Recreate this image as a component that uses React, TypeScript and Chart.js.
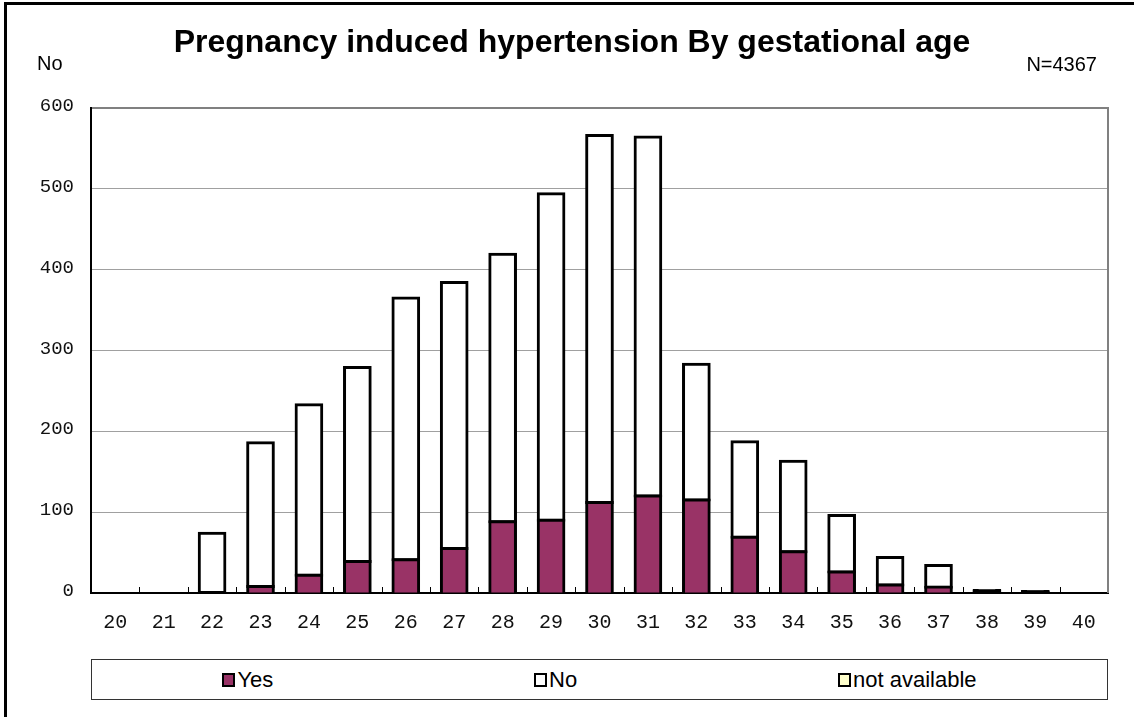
import React, { useEffect, useRef } from "react";
import { Chart, registerables } from "chart.js";

Chart.register(...registerables);

const TITLE = "Pregnancy induced hypertension By gestational age";
const Y_UNIT = "No";
const N_LABEL = "N=4367";

const WEEKS = ["20", "21", "22", "23", "24", "25", "26", "27", "28", "29", "30", "31", "32", "33", "34", "35", "36", "37", "38", "39", "40"];
const YES = [0, 0, 0, 8, 22, 39, 41, 55, 88, 90, 112, 120, 115, 69, 51, 26, 10, 7, 2, 1, 0];
const NO = [0, 0, 74, 178, 211, 240, 324, 329, 331, 404, 454, 444, 168, 118, 112, 70, 34, 27, 1, 1, 0];
const NOT_AVAILABLE = [0, 0, 0, 0, 0, 0, 0, 0, 0, 0, 0, 0, 0, 0, 0, 0, 0, 0, 0, 0, 0];

const SERIES_NAMES = ["Yes", "No", "not available"];
const SERIES_COLORS = ["#993366", "#FFFFFF", "#FFFFCC"];

const Y_MIN = 0;
const Y_MAX = 600;
const Y_STEP = 100;

const BAR_BORDER = 3;

const SANS = "'Liberation Sans', Arial, sans-serif";
const MONO = "'Liberation Mono', 'Courier New', monospace";

const framePlugin = {
  id: "frame",
  afterDraw(chart: any) {
    const { ctx, chartArea: a, scales } = chart;
    const x = scales.x;
    ctx.save();
    // plot-area right border
    ctx.strokeStyle = "#808080";
    ctx.lineWidth = 2;
    ctx.beginPath();
    ctx.moveTo(a.right, a.top - 1);
    ctx.lineTo(a.right, a.bottom);
    ctx.stroke();
    // inner tick marks at category boundaries
    ctx.strokeStyle = "#000";
    ctx.lineWidth = 1;
    ctx.beginPath();
    for (let i = 1; i < WEEKS.length; i++) {
      const px = Math.round((x.getPixelForValue(i - 1) + x.getPixelForValue(i)) / 2) + 0.5;
      ctx.moveTo(px, a.bottom);
      ctx.lineTo(px, a.bottom - 6);
    }
    ctx.stroke();
    ctx.restore();
  },
};

// pixel height of a bar segment (used to emulate the spreadsheet's outline on tiny segments)
function segmentPx(c: any): number {
  const ys = c.chart && c.chart.scales ? c.chart.scales.y : null;
  const v = c.raw;
  if (!ys || typeof v !== "number") return 999;
  return Math.abs(ys.getPixelForValue(0) - ys.getPixelForValue(v));
}

function BarChart() {
  const ref = useRef<HTMLCanvasElement | null>(null);
  useEffect(() => {
    if (!ref.current) return;
    const seriesData = [YES, NO, NOT_AVAILABLE];
    const chart = new Chart(ref.current, {
      type: "bar",
      data: {
        labels: WEEKS,
        datasets: SERIES_NAMES.map((name, i) => ({
          label: name,
          data: seriesData[i],
          backgroundColor: (c: any) => {
            const h = segmentPx(c);
            return h > 0 && h < BAR_BORDER ? "#000000" : SERIES_COLORS[i];
          },
          borderColor: "#000000",
          borderWidth: BAR_BORDER,
          borderSkipped: i === 0 ? "start" : false,
          inflateAmount: (c: any) => (typeof c.raw === "number" && c.raw > 0 ? BAR_BORDER / 2 : 0),
          categoryPercentage: 1,
          barPercentage: 0.53,
        })),
      },
      options: {
        animation: false,
        responsive: false,
        maintainAspectRatio: false,
        events: [],
        layout: { padding: { left: 0, right: 26, top: 108, bottom: 0 } },
        plugins: {
          legend: { display: false },
          title: { display: false },
          tooltip: { enabled: false },
        },
        scales: {
          x: {
            stacked: true,
            grid: { display: true, drawOnChartArea: false, drawTicks: false },
            border: { display: true, color: "#000000", width: 2 },
            ticks: {
              color: "#111",
              font: { family: MONO, size: 20 },
              padding: 18,
              maxRotation: 0,
              autoSkip: false,
            },
            afterFit: (s: any) => {
              s.height = 50;
            },
          },
          y: {
            stacked: true,
            min: Y_MIN,
            max: Y_MAX,
            ticks: {
              stepSize: Y_STEP,
              color: "#111",
              font: { family: MONO, size: 19 },
              padding: 17,
              labelOffset: -2,
            },
            grid: {
              drawTicks: false,
              color: (c: any) => (c.tick && c.tick.value === Y_MAX ? "#808080" : "#a0a0a0"),
              lineWidth: (c: any) => (c.tick && c.tick.value === Y_MAX ? 2 : 1),
            },
            border: { display: true, color: "#000000", width: 2 },
            afterFit: (s: any) => {
              s.width = 91;
            },
          },
        },
      },
      plugins: [framePlugin],
    });
    return () => chart.destroy();
  }, []);
  return (
    <canvas
      ref={ref}
      width={1134}
      height={643}
      style={{ position: "absolute", left: 0, top: 0, width: 1134, height: 643 }}
    />
  );
}

export default function App() {
  return (
    <div
      style={{
        position: "absolute",
        left: 0,
        top: 0,
        width: 1134,
        height: 717,
        overflow: "hidden",
        background: "#fff",
        fontFamily: SANS,
      }}
    >
      <div
        style={{
          position: "absolute",
          left: 4,
          top: 2,
          width: 1200,
          height: 800,
          borderLeft: "3px solid #000",
          borderTop: "3px solid #000",
          boxSizing: "border-box",
        }}
      />
      <BarChart />
      <div
        style={{
          position: "absolute",
          left: 0,
          top: 25,
          width: 1144,
          textAlign: "center",
          fontWeight: "bold",
          fontSize: 32,
          lineHeight: "32px",
          color: "#000",
          whiteSpace: "nowrap",
        }}
      >
        {TITLE}
      </div>
      <div style={{ position: "absolute", left: 37, top: 53, fontSize: 20, lineHeight: "20px", color: "#000" }}>
        {Y_UNIT}
      </div>
      <div
        style={{
          position: "absolute",
          left: 900,
          width: 197,
          textAlign: "right",
          top: 54,
          fontSize: 20,
          lineHeight: "20px",
          color: "#000",
        }}
      >
        {N_LABEL}
      </div>
      <div
        style={{
          position: "absolute",
          left: 91,
          top: 659,
          width: 1017,
          height: 41,
          boxSizing: "border-box",
          border: "1px solid #333",
          display: "flex",
          justifyContent: "space-around",
          alignItems: "center",
        }}
      >
        {SERIES_NAMES.map((name, i) => (
          <div key={name} style={{ display: "flex", alignItems: "center" }}>
            <span
              style={{
                display: "inline-block",
                width: 13,
                height: 14,
                boxSizing: "border-box",
                border: "2px solid #000",
                background: SERIES_COLORS[i],
                marginRight: 2,
              }}
            />
            <span style={{ fontSize: 22, lineHeight: "22px", color: "#000" }}>{name}</span>
          </div>
        ))}
      </div>
    </div>
  );
}
